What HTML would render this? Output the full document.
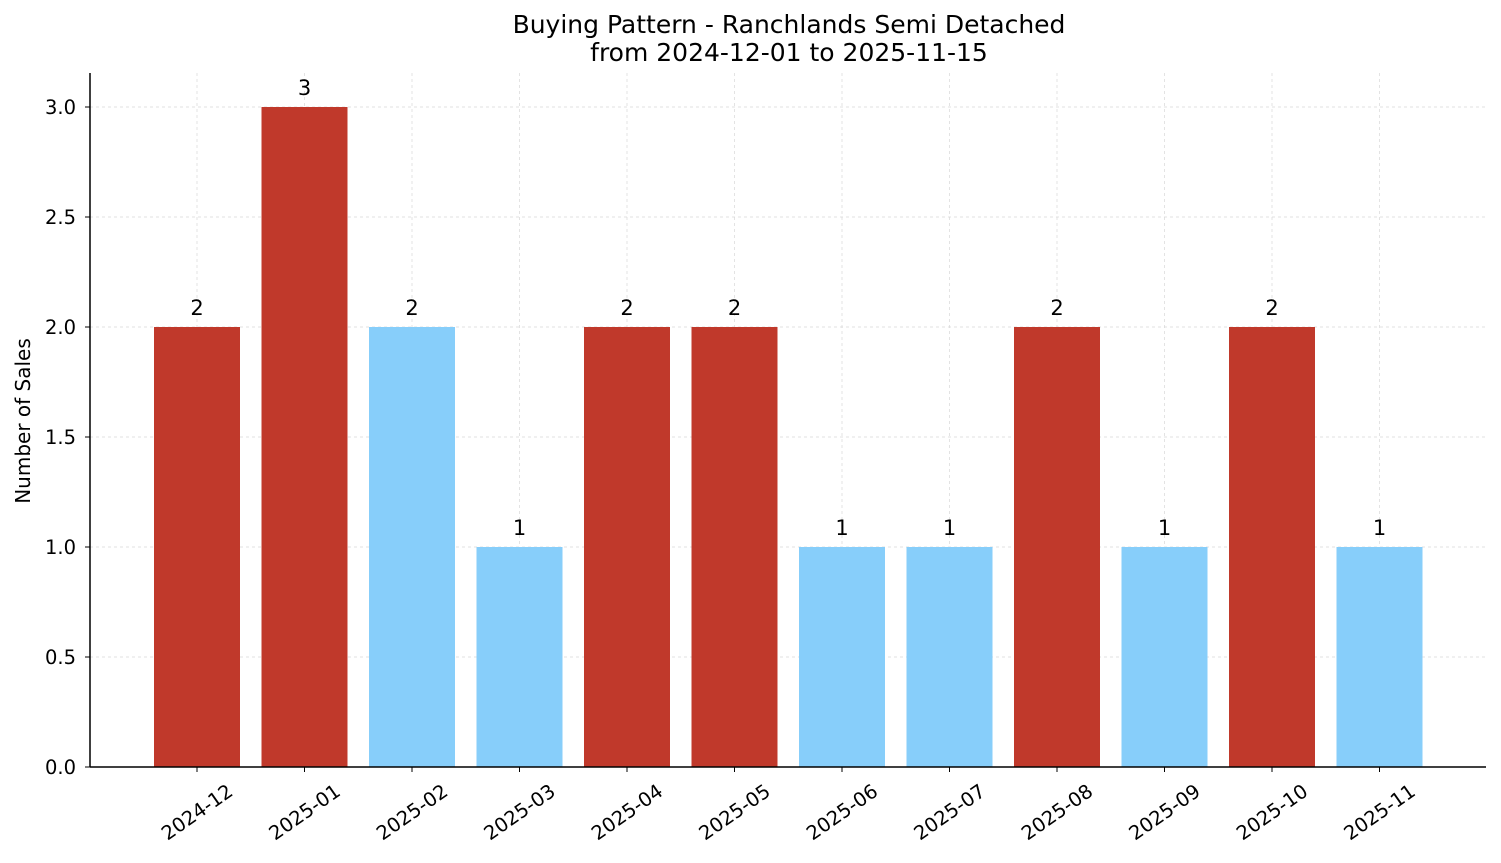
<!DOCTYPE html>
<html><head><meta charset="utf-8"><style>
body{margin:0;background:#fff}
svg{display:block;font-family:"DejaVu Sans","Liberation Sans",sans-serif}
</style></head><body>
<svg id="chart" width="1501" height="863">
<g id="grid"></g>
<g id="bars"></g>
<g id="axes"></g>
<text x="789" y="33" text-anchor="middle" font-size="25">Buying Pattern - Ranchlands Semi Detached</text>
<text x="789" y="61" text-anchor="middle" font-size="25">from 2024-12-01 to 2025-11-15</text>
<text transform="translate(23,421) rotate(-90)" dy="0.35em" text-anchor="middle" font-size="20">Number of Sales</text>
</svg>
<script>
const categories=["2024-12","2025-01","2025-02","2025-03","2025-04","2025-05","2025-06","2025-07","2025-08","2025-09","2025-10","2025-11"];
const values=[2,3,2,1,2,2,1,1,2,1,2,1];
const highlight=[1,1,0,0,1,1,0,0,1,0,1,0];
const yTicks=[0,0.5,1,1.5,2,2.5,3];
const yTickLabels=["0.0","0.5","1.0","1.5","2.0","2.5","3.0"];
const NS="http://www.w3.org/2000/svg";
const L=90,R=1486,T=73,B=767;
const y=v=>B-v*220;
const x=i=>197+107.5*i;
const bw=86;
function mk(tag,attrs,parent,text){const e=document.createElementNS(NS,tag);for(const k in attrs)e.setAttribute(k,attrs[k]);if(text!==undefined)e.textContent=text;parent.appendChild(e);return e;}
const grid=document.getElementById('grid'),bars=document.getElementById('bars'),axes=document.getElementById('axes');
yTicks.forEach((t,i)=>{
  const g=mk('line',{x1:L,x2:R,y1:y(t),y2:y(t),stroke:'#d8d8d8','stroke-dasharray':'3,3','stroke-width':0.7},grid);
  
  
  const tk=mk('line',{x1:L-5,x2:L,y1:y(t),y2:y(t),stroke:'#000'},axes);
  
  
  const lb=mk('text',{x:L-14,y:y(t),dy:'0.35em','text-anchor':'end','font-size':19.5},axes,yTickLabels[i]);
  
  
});
categories.forEach((c,i)=>{
  const g=mk('line',{x1:x(i),x2:x(i),y1:T,y2:B,stroke:'#d8d8d8','stroke-dasharray':'3,3','stroke-width':0.7},grid);
  
  
  const r=mk('rect',{x:x(i)-bw/2,y:y(values[i]),width:bw,height:B-y(values[i]),fill:highlight[i]?'#c0392b':'#87cefa'},bars);
  
  
  const v=mk('text',{x:x(i),y:y(values[i])-12,'text-anchor':'middle','font-size':21},bars,String(values[i]));
  
  
  const tk=mk('line',{x1:x(i),x2:x(i),y1:B,y2:B+5,stroke:'#000'},axes);
  
  
  const lb=mk('text',{transform:`translate(${x(i)},${B+45}) rotate(-35)`,dy:'0.35em','text-anchor':'middle','font-size':19.5},axes,c);
  
  
});
const ax1=mk('line',{x1:L,x2:L,y1:T,y2:B,stroke:'#000','stroke-width':1.5},axes);


const ax2=mk('line',{x1:L,x2:R,y1:B,y2:B,stroke:'#000','stroke-width':1.5},axes);


</script>
</body></html>
